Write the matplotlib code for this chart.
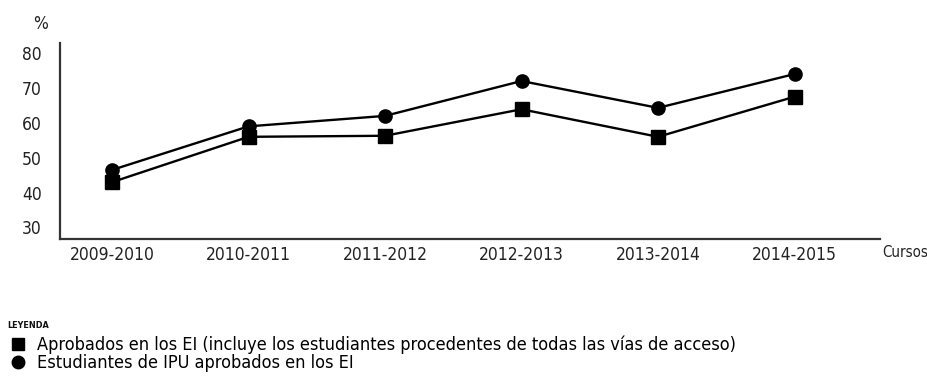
import matplotlib
matplotlib.use("Agg")
import matplotlib.pyplot as plt
from matplotlib.lines import Line2D

plt.rcParams['font.family'] = ['DejaVu Sans']
plt.rcParams['font.stretch'] = 'condensed'

cursos = ["2009-2010", "2010-2011", "2011-2012", "2012-2013", "2013-2014", "2014-2015"]
aprobados_ei = [43, 56, 56.3, 63.9, 56, 67.5]
ipu_aprobados = [46.5, 59, 62, 72, 64.3, 74]
yticks = [30, 40, 50, 60, 70, 80]

label_ei = "Aprobados en los EI (incluye los estudiantes procedentes de todas las vías de acceso)"
label_ipu = "Estudiantes de IPU aprobados en los EI"

fig = plt.figure(figsize=(9.27, 3.77), dpi=100)
ax = fig.add_axes([60 / 927, 138 / 377, 820 / 927, 196 / 377])

x = list(range(len(cursos)))
ax.plot(x, aprobados_ei, color="black", lw=1.7, marker="s", ms=9.5)
ax.plot(x, ipu_aprobados, color="black", lw=1.7, marker="o", ms=9.5)

ax.set_xlim(-0.381, 5.626)
ax.set_ylim(26.7, 82.9)
ax.set_xticks(x)
ax.set_xticklabels(cursos)
ax.set_yticks(yticks)
ax.tick_params(length=0, labelsize=12.5, colors="#222222", pad=5)
ax.tick_params(axis="y", pad=13)

for side in ("top", "right"):
    ax.spines[side].set_visible(False)
for side in ("left", "bottom"):
    ax.spines[side].set_color("#333333")
    ax.spines[side].set_linewidth(1.6)

ax.text(1.003, -0.07, "Cursos", transform=ax.transAxes, ha="left", va="center",
        fontsize=10.8, color="#222222")
fig.text(33 / 927, 1 - 24 / 377, "%", ha="left", va="center", fontsize=12.5, color="#222222")

fig.text(7 / 927, 1 - 326 / 377, "LEYENDA", ha="left", va="center", fontsize=6.5,
         fontweight="bold", color="#111111")

handles = [
    Line2D([], [], color="black", marker="s", linestyle="none", ms=9),
    Line2D([], [], color="black", marker="o", linestyle="none", ms=9),
]
fig.legend(handles, [label_ei, label_ipu], loc="upper left",
           bbox_to_anchor=(10 / 927, 1 - 336 / 377), frameon=False, fontsize=13.0,
           handlelength=0.9, handletextpad=0.6, labelspacing=0.0,
           borderpad=0, borderaxespad=0)

fig.savefig("out.png", dpi=100)
